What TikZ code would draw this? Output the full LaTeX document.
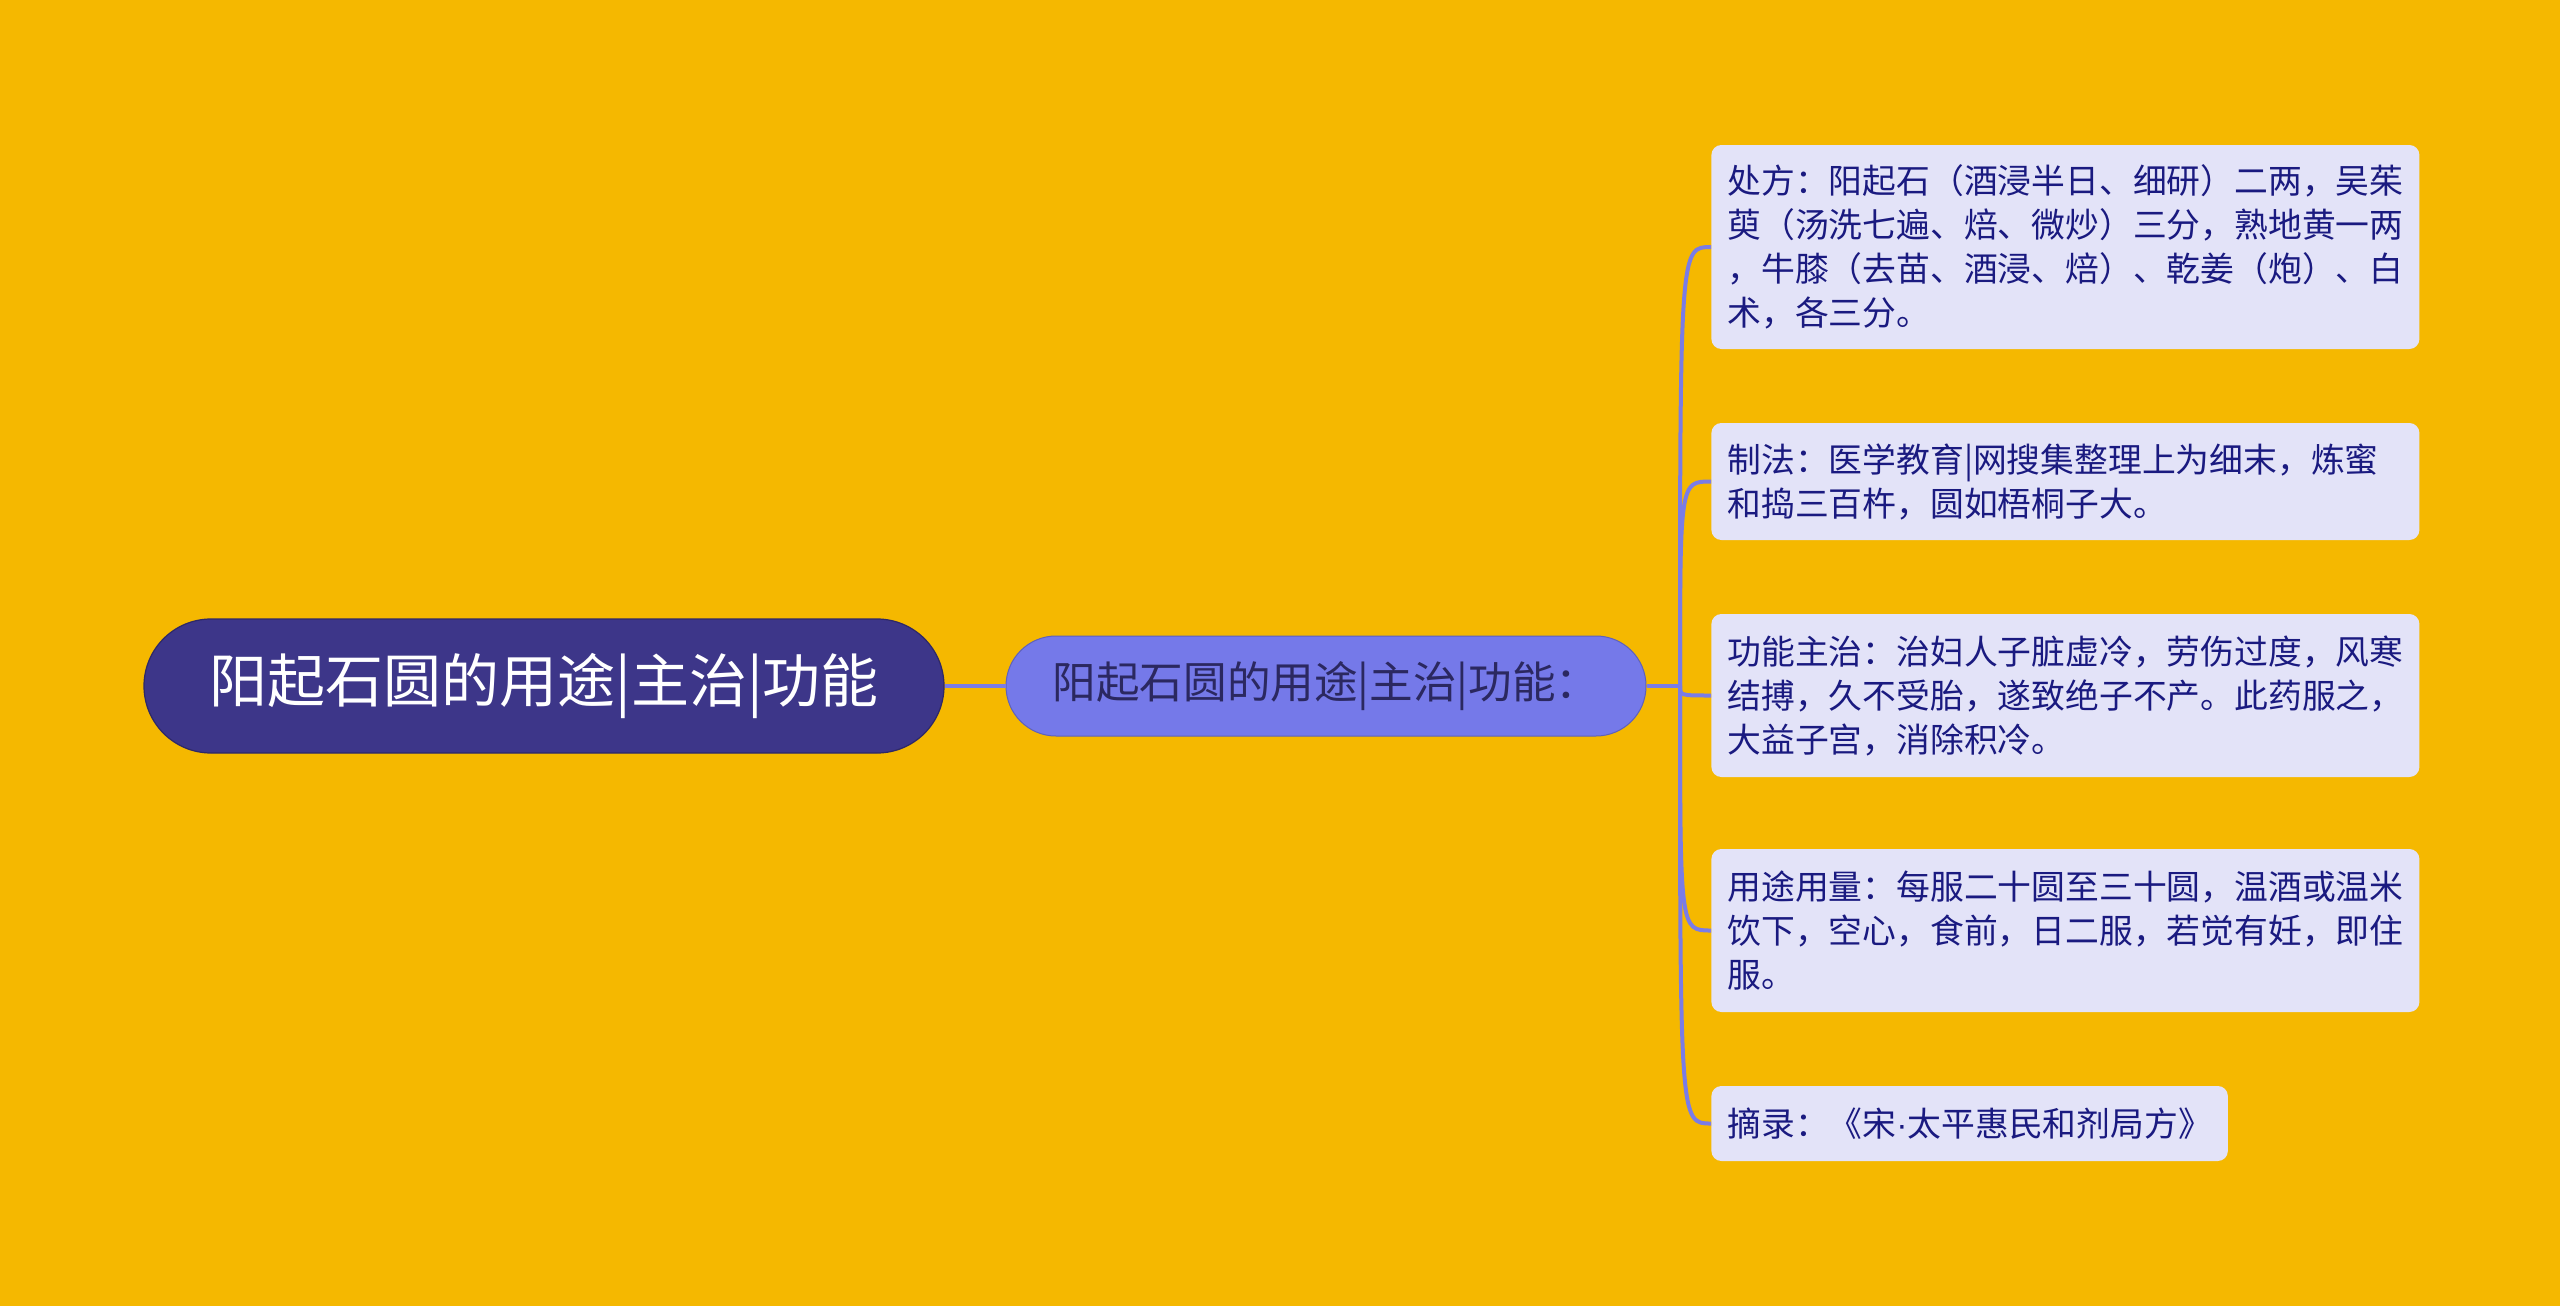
\documentclass[tikz,border=0pt]{standalone}
\usepackage{fontspec}
\newfontfamily\cjk{Noto Sans CJK SC}
\newfontfamily\dotfont{Liberation Sans}
\definecolor{bg}{HTML}{F5B800}
\definecolor{rootfill}{HTML}{3D3689}
\definecolor{midfill}{HTML}{7579E9}
\definecolor{leaffill}{HTML}{E3E3F8}
\definecolor{leaftext}{HTML}{1A1A80}
\definecolor{linec}{HTML}{7A7CE6}
\definecolor{midtext}{HTML}{2B2860}
\begin{document}
\begin{tikzpicture}[x=0.5pt,y=-0.5pt,
  rootnode/.style={rounded corners=33.5pt, fill=rootfill, draw=rootfill!75!black, line width=0.6pt,
    minimum width=400pt, minimum height=67pt, inner sep=0pt, text=white,
    font=\cjk\fontsize{29}{34}\selectfont},
  midnode/.style={rounded corners=25pt, fill=midfill, draw=midfill!80!black, line width=0.5pt,
    minimum width=320pt, minimum height=50pt, inner sep=0pt, text=midtext,
    font=\cjk\fontsize{21.8}{26}\selectfont},
  leaf/.style={anchor=west, rounded corners=5pt, fill=leaffill, inner xsep=8pt, inner ysep=0pt,
    align=left, text=leaftext, font=\cjk\fontsize{16.9}{22}\selectfont},
  wideleaf/.style={leaf, text width=338pt},
  conn/.style={draw=linec, line width=2pt}
]
\fill[bg] (0,0) rectangle (2560,1306);
\useasboundingbox (0,0) rectangle (2560,1306);

\node[rootnode] (root) at (544,686) {阳起石圆的用途|主治|功能};
\node[midnode] (mid) at (1326,686) {阳起石圆的用途|主治|功能：};
\coordinate (J) at (1680,686);

\node[wideleaf, minimum height=102pt] (l1) at (1711,247) {处方：阳起石（酒浸半日、细研）二两，吴茱\\萸（汤洗七遍、焙、微炒）三分，熟地黄一两\\，牛膝（去苗、酒浸、焙）、乾姜（炮）、白\\术，各三分。};
\node[wideleaf, minimum height=58.5pt] (l2) at (1711,481.5) {制法：医学教育|网搜集整理上为细末，炼蜜\\和捣三百杵，圆如梧桐子大。};
\node[wideleaf, minimum height=81.5pt] (l3) at (1711,695.5) {功能主治：治妇人子脏虚冷，劳伤过度，风寒\\结搏，久不受胎，遂致绝子不产。此药服之，\\大益子宫，消除积冷。};
\node[wideleaf, minimum height=81.5pt] (l4) at (1711,930.5) {用途用量：每服二十圆至三十圆，温酒或温米\\饮下，空心，食前，日二服，若觉有妊，即住\\服。};
\node[leaf, minimum height=37.5pt] (l5) at (1711,1123.5) {摘录：《宋{\dotfont ·}太平惠民和剂局方》};

\draw[conn] (root.east) -- (mid.west);
\draw[conn] (mid.east) -- (J);
\foreach \n in {l1,l2,l3,l4,l5}{
  \draw[conn] (J) .. controls (J |- \n.west) and (J |- \n.west) .. (\n.west);
}
\end{tikzpicture}
\end{document}
